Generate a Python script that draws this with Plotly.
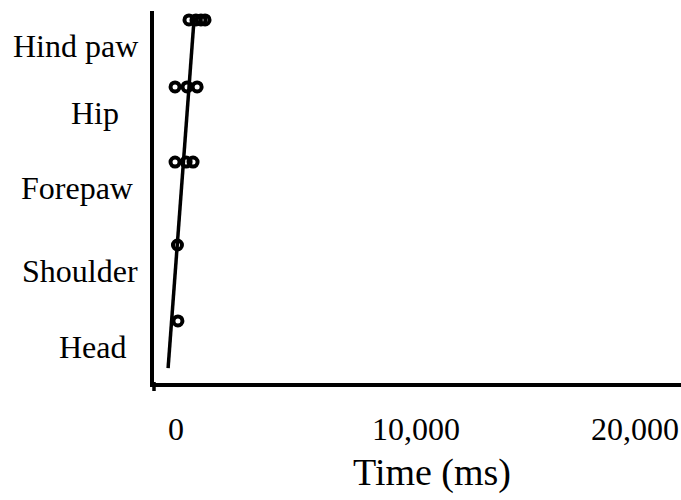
import plotly.graph_objects as go

# ---- data ----
body_parts = ["Head", "Shoulder", "Forepaw", "Hip", "Hind paw"]
body_pos = [16.7, 37.1, 59.4, 79.6, 97.6]          # relative position along body
onset_ms = [
    [80],                       # Head
    [60],                       # Shoulder
    [-40, 420, 710],            # Forepaw
    [-40, 460, 880],            # Hip
    [540, 830, 1040, 1210],     # Hind paw
]
fit_x = [-330, 750]
fit_y = [4.0, 97.6]
x_ticks = [0, 10000, 20000]
x_tick_text = ["0", "10,000", "20,000"]

FONT = "Liberation Serif, Times New Roman, serif"

fig = go.Figure()

fig.add_trace(go.Scatter(
    x=fit_x, y=fit_y, mode="lines",
    line=dict(color="black", width=3.5), showlegend=False, hoverinfo="skip"))

px, py = [], []
for pos, vals in zip(body_pos, onset_ms):
    for v in vals:
        px.append(v)
        py.append(pos)
fig.add_trace(go.Scatter(
    x=px, y=py, mode="markers",
    marker=dict(symbol="circle-open", size=9, color="black",
                line=dict(color="black", width=4)),
    showlegend=False))

# y labels (free text boxes in the original, sitting below each row of points)
label_xc = [93, 80, 77, 95, 75]   # horizontal centres in px
annotations = []
for name, pos, xc in zip(body_parts, body_pos, label_xc):
    annotations.append(dict(
        text=name, xref="paper", yref="y", x=(xc - 154) / 527, y=pos,
        xanchor="center", yanchor="middle", yshift=-26, showarrow=False,
        font=dict(family=FONT, size=32, color="black")))

x_lo, x_hi = -917, 21040
for v, t in zip(x_ticks, x_tick_text):
    frac = (v - x_lo) / (x_hi - x_lo)
    if frac * 527 + 44 > 527:
        annotations.append(dict(text=t, xref="paper", yref="paper", x=1, y=0,
                                xanchor="right", yanchor="middle", yshift=-46,
                                showarrow=False,
                                font=dict(family=FONT, size=32, color="black")))
    else:
        annotations.append(dict(text=t, xref="x", yref="paper", x=v, y=0,
                                xanchor="center", yanchor="middle", yshift=-46,
                                showarrow=False,
                                font=dict(family=FONT, size=32, color="black")))

annotations.append(dict(text="Time (ms)", xref="paper", yref="paper",
                        x=(432 - 154) / 527, y=0, xanchor="center",
                        yanchor="middle", yshift=-89, showarrow=False,
                        font=dict(family=FONT, size=38, color="black")))

fig.update_layout(
    width=681, height=500,
    margin=dict(l=154, r=0, t=11, b=117),
    paper_bgcolor="white", plot_bgcolor="white",
    annotations=annotations,
    xaxis=dict(range=[x_lo, x_hi], showgrid=False, zeroline=False,
               showline=True, linecolor="black", linewidth=3.5,
               ticks="", showticklabels=False),
    yaxis=dict(range=[0, 100], showgrid=False, zeroline=False,
               showline=True, linecolor="black", linewidth=3.5,
               ticks="", showticklabels=False),
    shapes=[dict(type="line", xref="paper", yref="paper",
                 x0=0, x1=0, ysizemode="pixel", yanchor=0, y0=1, y1=-8,
                 line=dict(color="black", width=3.5))],
)

fig.write_html("out.html")
